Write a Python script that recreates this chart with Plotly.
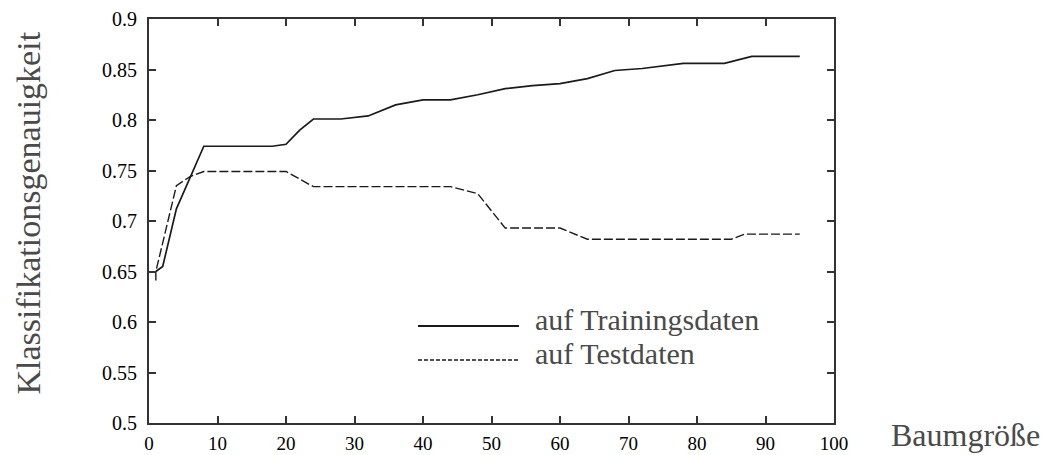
import plotly.graph_objects as go

# Data
train_x = [1, 2, 4, 8, 12, 16, 18, 20, 22, 24, 28, 32, 36, 40, 44, 48, 52, 56, 60, 64, 68, 72, 76, 78, 84, 88, 95]
train_y = [0.650, 0.655, 0.712, 0.774, 0.774, 0.774, 0.774, 0.776, 0.790, 0.801, 0.801, 0.804, 0.815, 0.820,
           0.820, 0.825, 0.831, 0.834, 0.836, 0.841, 0.849, 0.851, 0.854, 0.856, 0.856, 0.863, 0.863]

test_x = [1, 1, 4, 6, 8, 20, 24, 44, 48, 52, 60, 64, 85, 87, 95]
test_y = [0.641, 0.650, 0.735, 0.744, 0.749, 0.749, 0.734, 0.734, 0.727, 0.693, 0.693, 0.682, 0.682, 0.687, 0.687]

x_ticks = [0, 10, 20, 30, 40, 50, 60, 70, 80, 90, 100]
y_ticks = [0.5, 0.55, 0.6, 0.65, 0.7, 0.75, 0.8, 0.85, 0.9]
y_ticktext = ["0.5", "0.55", "0.6", "0.65", "0.7", "0.75", "0.8", "0.85", "0.9"]

series_names = ["auf Trainingsdaten", "auf Testdaten"]
x_title = "Baumgröße"
y_title = "Klassifikationsgenauigkeit"

SERIF = "Liberation Serif, Times New Roman, serif"
LINE_COL = "#1a1a1a"
TEXT_GREY = "#4a4a4a"

fig = go.Figure()
fig.add_trace(go.Scatter(x=train_x, y=train_y, mode="lines", name=series_names[0],
                         line=dict(color=LINE_COL, width=1.7), showlegend=False))
fig.add_trace(go.Scatter(x=test_x, y=test_y, mode="lines", name=series_names[1],
                         line=dict(color=LINE_COL, width=1.4, dash="9px,3px"), showlegend=False))

axis_common = dict(showline=True, linecolor="#333333", linewidth=2, mirror="ticks",
                   ticks="inside", ticklen=7, tickwidth=1.5, tickcolor="#333333",
                   showgrid=False, zeroline=False, automargin=False)

fig.update_xaxes(range=[0, 100], tickvals=x_ticks, ticklabelstandoff=2,
                 tickfont=dict(family=SERIF, size=19, color="#000000"), **axis_common)
fig.update_yaxes(range=[0.5, 0.9], tickvals=y_ticks, ticktext=y_ticktext, ticklabelstandoff=6,
                 tickfont=dict(family=SERIF, size=20, color="#000000"), **axis_common)

# Legend drawn inside the plot
legend_y_lines = [0.2401, 0.1559]
legend_y_text = [0.255, 0.1708]
dashes = ["solid", "4px,2px"]
shapes = []
annotations = []
for name, yl, yt, dsh in zip(series_names, legend_y_lines, legend_y_text, dashes):
    shapes.append(dict(type="line", xref="paper", yref="paper", x0=0.3927, x1=0.5401, y0=yl, y1=yl,
                       line=dict(color=LINE_COL, width=2 if dsh == "solid" else 1.6, dash=dsh)))
    annotations.append(dict(text=name, xref="paper", yref="paper", x=0.5606, y=yt,
                            xanchor="left", yanchor="middle", showarrow=False,
                            font=dict(family=SERIF, size=30, color=TEXT_GREY)))

annotations.append(dict(text=y_title, xref="paper", yref="paper", x=-0.1766, y=0.5186,
                        xanchor="center", yanchor="middle", textangle=-90, showarrow=False,
                        font=dict(family=SERIF, size=34, color=TEXT_GREY)))
annotations.append(dict(text=x_title, xref="paper", yref="paper", x=1.1927, y=-0.0297,
                        xanchor="center", yanchor="middle", showarrow=False,
                        font=dict(family=SERIF, size=32, color=TEXT_GREY)))

# The page body has an 8px default margin; size the figure so that it fills the window
fig.update_layout(width=1040, height=447,
                  margin=dict(l=141, r=214, t=11, b=32),
                  paper_bgcolor="white", plot_bgcolor="white",
                  shapes=shapes, annotations=annotations)

fig.write_html("out.html")
